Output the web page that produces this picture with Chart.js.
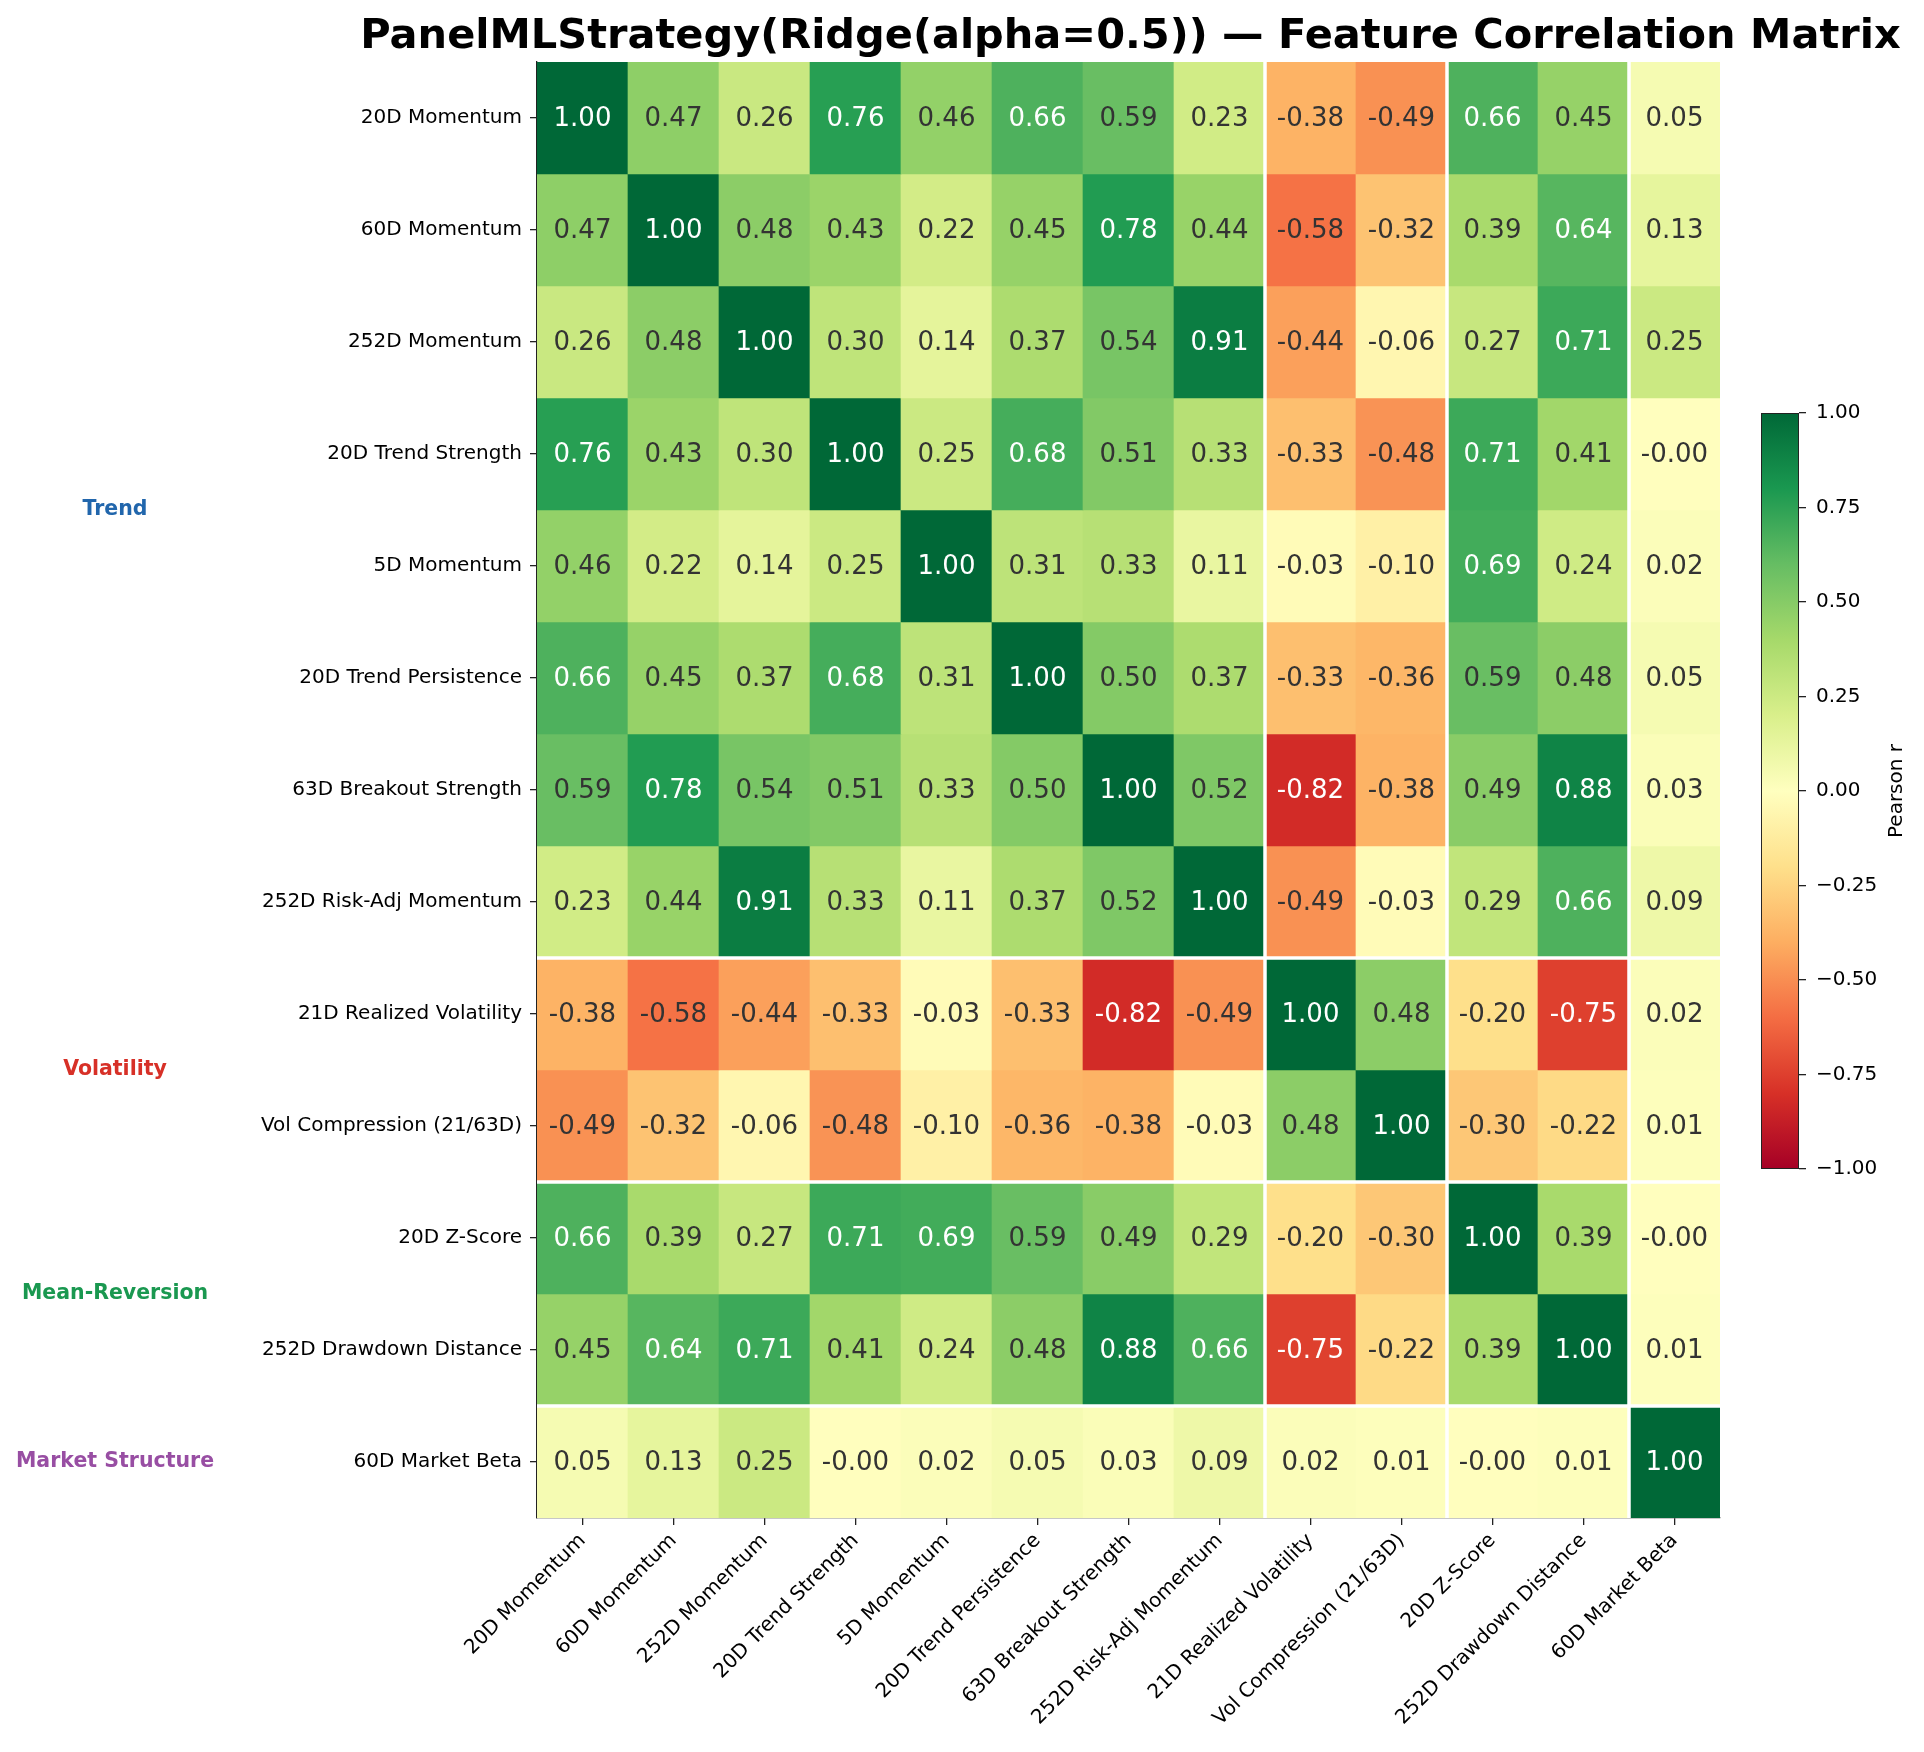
<!DOCTYPE html>
<html lang="en">
<head>
    <meta charset="UTF-8">
    <title>Feature Correlation Matrix</title>
    <script src="https://cdn.jsdelivr.net/npm/chart.js"></script>
    <style>
        body {
            margin: 0;
            background: #fff;
            font-family: "DejaVu Sans", sans-serif;
        }
        #wrap {
            position: relative;
            width: 1924px;
            height: 1752px;
        }
        #heatmap {
            position: absolute;
            left: 0;
            top: 0;
        }
        #colorbar {
            position: absolute;
            left: 1700px;
            top: 380px;
        }
    </style>
</head>
<body>
<div id="wrap">
    <canvas id="heatmap" width="1924" height="1752"></canvas>
    <canvas id="colorbar" width="224" height="830"></canvas>
</div>

<script>
    // Features (rows and columns in the same order)
    const features = [
        '20D Momentum', '60D Momentum', '252D Momentum', '20D Trend Strength',
        '5D Momentum', '20D Trend Persistence', '63D Breakout Strength', '252D Risk-Adj Momentum',
        '21D Realized Volatility', 'Vol Compression (21/63D)',
        '20D Z-Score', '252D Drawdown Distance',
        '60D Market Beta'
    ];

    // Pearson r, one row per feature (-0.001 shows as "-0.00")
    const corr = [
        [1.00, 0.47, 0.26, 0.76, 0.46, 0.66, 0.59, 0.23, -0.38, -0.49, 0.66, 0.45, 0.05],
        [0.47, 1.00, 0.48, 0.43, 0.22, 0.45, 0.78, 0.44, -0.58, -0.32, 0.39, 0.64, 0.13],
        [0.26, 0.48, 1.00, 0.30, 0.14, 0.37, 0.54, 0.91, -0.44, -0.06, 0.27, 0.71, 0.25],
        [0.76, 0.43, 0.30, 1.00, 0.25, 0.68, 0.51, 0.33, -0.33, -0.48, 0.71, 0.41, -0.001],
        [0.46, 0.22, 0.14, 0.25, 1.00, 0.31, 0.33, 0.11, -0.03, -0.10, 0.69, 0.24, 0.02],
        [0.66, 0.45, 0.37, 0.68, 0.31, 1.00, 0.50, 0.37, -0.33, -0.36, 0.59, 0.48, 0.05],
        [0.59, 0.78, 0.54, 0.51, 0.33, 0.50, 1.00, 0.52, -0.82, -0.38, 0.49, 0.88, 0.03],
        [0.23, 0.44, 0.91, 0.33, 0.11, 0.37, 0.52, 1.00, -0.49, -0.03, 0.29, 0.66, 0.09],
        [-0.38, -0.58, -0.44, -0.33, -0.03, -0.33, -0.82, -0.49, 1.00, 0.48, -0.20, -0.75, 0.02],
        [-0.49, -0.32, -0.06, -0.48, -0.10, -0.36, -0.38, -0.03, 0.48, 1.00, -0.30, -0.22, 0.01],
        [0.66, 0.39, 0.27, 0.71, 0.69, 0.59, 0.49, 0.29, -0.20, -0.30, 1.00, 0.39, -0.001],
        [0.45, 0.64, 0.71, 0.41, 0.24, 0.48, 0.88, 0.66, -0.75, -0.22, 0.39, 1.00, 0.01],
        [0.05, 0.13, 0.25, -0.001, 0.02, 0.05, 0.03, 0.09, 0.02, 0.01, -0.001, 0.01, 1.00]
    ];

    // Feature groups: first and last row index, label colour
    const groupNames = ['Trend', 'Volatility', 'Mean-Reversion', 'Market Structure'];
    const groupStart = [0, 8, 10, 12];
    const groupEnd = [7, 9, 11, 12];
    const groupColors = ['#2166ac', '#d73027', '#1a9850', '#984ea3'];

    // colorbar ticks
    const cbTicks = [-1, -0.75, -0.5, -0.25, 0, 0.25, 0.5, 0.75, 1];

    // RdYlGn (ColorBrewer, 11 stops)
    const rdylgn = [
        [165, 0, 38], [215, 48, 39], [244, 109, 67], [253, 174, 97], [254, 224, 139],
        [255, 255, 191], [217, 239, 139], [166, 217, 106], [102, 189, 99], [26, 152, 80], [0, 104, 55]
    ];

    function cmap(v) {
        // same 256-step lookup as matplotlib
        let idx = Math.floor((v + 1) / 2 * 256);
        idx = Math.max(0, Math.min(255, idx));
        const t = idx / 255 * (rdylgn.length - 1);
        const i = Math.min(rdylgn.length - 2, Math.floor(t));
        const f = t - i;
        const a = rdylgn[i], b = rdylgn[i + 1];
        const c = a.map((x, k) => Math.round(x + (b[k] - x) * f));
        return `rgb(${c[0]}, ${c[1]}, ${c[2]})`;
    }

    Chart.defaults.font.family = '"DejaVu Sans", sans-serif';
    Chart.defaults.color = '#000';

    const area = { left: 537, top: 62, rightPad: 204, xAxisH: 234 };

    // values, group separators, group names and title
    const overlayPlugin = {
        id: 'overlay',
        afterDatasetsDraw(chart) {
            const ctx = chart.ctx;
            const xs = chart.scales.x, ys = chart.scales.y;
            const ca = chart.chartArea;

            ctx.save();
            ctx.font = '26px "DejaVu Sans"';
            ctx.textAlign = 'center';
            ctx.textBaseline = 'middle';
            corr.forEach((row, r) => {
                const meta = chart.getDatasetMeta(r);
                row.forEach((v, c) => {
                    const el = meta.data[c];
                    ctx.fillStyle = Math.abs(v) > 0.6 ? '#ffffff' : '#333333';
                    ctx.fillText(v.toFixed(2), el.x, (el.y + el.base) / 2 + 1);
                });
            });

            // white lines between groups
            ctx.strokeStyle = '#ffffff';
            ctx.lineWidth = 3.5;
            groupStart.slice(1).forEach(s => {
                const py = ys.getPixelForValue(s);
                const px = xs.getPixelForValue(s - 0.5);
                ctx.beginPath();
                ctx.moveTo(ca.left, py);
                ctx.lineTo(ca.right, py);
                ctx.stroke();
                ctx.beginPath();
                ctx.moveTo(px, ca.top);
                ctx.lineTo(px, ca.bottom);
                ctx.stroke();
            });
            ctx.restore();
        },
        afterDraw(chart) {
            const ctx = chart.ctx;
            const ys = chart.scales.y;
            const ca = chart.chartArea;
            ctx.save();
            ctx.textAlign = 'center';
            ctx.textBaseline = 'middle';
            ctx.font = 'bold 20.5px "DejaVu Sans"';
            groupNames.forEach((g, i) => {
                ctx.fillStyle = groupColors[i];
                const mid = (groupStart[i] + groupEnd[i] + 1) / 2;
                ctx.fillText(g, 115, ys.getPixelForValue(mid));
            });

            ctx.fillStyle = '#000';
            ctx.font = 'bold 41.5px "DejaVu Sans"';
            ctx.textBaseline = 'alphabetic';
            ctx.fillText('PanelMLStrategy(Ridge(alpha=0.5)) \u2014 Feature Correlation Matrix',
                (ca.left + ca.right) / 2 + 2, 48);
            ctx.restore();
        }
    };

    new Chart(document.getElementById('heatmap'), {
        type: 'bar',
        data: {
            labels: features,
            datasets: corr.map((row, r) => ({
                label: features[r],
                data: row.map(() => [r, r + 1]),
                backgroundColor: row.map(cmap),
                borderWidth: 0,
                grouped: false,
                barPercentage: 1,
                categoryPercentage: 1
            }))
        },
        options: {
            responsive: false,
            animation: false,
            layout: {
                padding: { left: 0, top: area.top, right: area.rightPad, bottom: 0 }
            },
            plugins: {
                legend: { display: false },
                tooltip: { enabled: false },
                title: { display: false }
            },
            scales: {
                x: {
                    type: 'category',
                    z: 1,
                    afterFit: (s) => { s.height = area.xAxisH; },
                    grid: { offset: false, drawOnChartArea: false, tickLength: 7, color: '#222', lineWidth: 1.3 },
                    border: { display: true, color: '#222', width: 1.3 },
                    ticks: {
                        autoSkip: false,
                        maxRotation: 45,
                        minRotation: 45,
                        padding: 4,
                        font: { size: 20 },
                        color: '#000'
                    }
                },
                y: {
                    type: 'linear',
                    min: 0,
                    max: features.length,
                    reverse: true,
                    z: 1,
                    afterFit: (s) => { s.width = area.left; },
                    afterBuildTicks: (s) => {
                        s.ticks = features.map((f, i) => ({ value: i + 0.5 }));
                    },
                    grid: { drawOnChartArea: false, tickLength: 7, color: '#222', lineWidth: 1.3 },
                    border: { display: true, color: '#222', width: 1.3 },
                    ticks: {
                        autoSkip: false,
                        padding: 8,
                        font: { size: 20 },
                        color: '#000',
                        callback: (v, i) => features[i]
                    }
                }
            }
        },
        plugins: [overlayPlugin]
    });

    // colorbar: one floating bar from -1 to 1 filled with the colormap
    const cbLabelPlugin = {
        id: 'cbLabel',
        afterDraw(chart) {
            const ctx = chart.ctx;
            const ca = chart.chartArea;
            ctx.save();
            ctx.translate(197, (ca.top + ca.bottom) / 2);
            ctx.rotate(-Math.PI / 2);
            ctx.font = '20px "DejaVu Sans"';
            ctx.fillStyle = '#000';
            ctx.textAlign = 'center';
            ctx.textBaseline = 'middle';
            ctx.fillText('Pearson r', 0, 0);
            ctx.restore();
        }
    };

    new Chart(document.getElementById('colorbar'), {
        type: 'bar',
        data: {
            labels: [''],
            datasets: [{
                data: [[cbTicks[0], cbTicks[cbTicks.length - 1]]],
                backgroundColor: (c) => {
                    const ca = c.chart.chartArea;
                    if (!ca) return '#fff';
                    const g = c.chart.ctx.createLinearGradient(0, ca.bottom, 0, ca.top);
                    rdylgn.forEach((col, i) => {
                        g.addColorStop(i / (rdylgn.length - 1), `rgb(${col[0]}, ${col[1]}, ${col[2]})`);
                    });
                    return g;
                },
                borderColor: '#222',
                borderWidth: 1.3,
                borderSkipped: false,
                barPercentage: 1,
                categoryPercentage: 1
            }]
        },
        options: {
            responsive: false,
            animation: false,
            layout: { padding: { left: 61, top: 33, right: 0, bottom: 41 } },
            plugins: {
                legend: { display: false },
                tooltip: { enabled: false }
            },
            scales: {
                x: { display: false },
                y: {
                    type: 'linear',
                    position: 'right',
                    min: -1,
                    max: 1,
                    afterFit: (s) => { s.width = 125; },
                    afterBuildTicks: (s) => {
                        s.ticks = cbTicks.map(v => ({ value: v }));
                    },
                    grid: { drawOnChartArea: false, tickLength: 7, color: '#222', lineWidth: 1.3 },
                    border: { display: false },
                    ticks: {
                        padding: 10,
                        font: { size: 20 },
                        color: '#000',
                        callback: (v) => (v < 0 ? '\u2212' : '') + Math.abs(v).toFixed(2)
                    }
                }
            }
        },
        plugins: [cbLabelPlugin]
    });
</script>
</body>
</html>
